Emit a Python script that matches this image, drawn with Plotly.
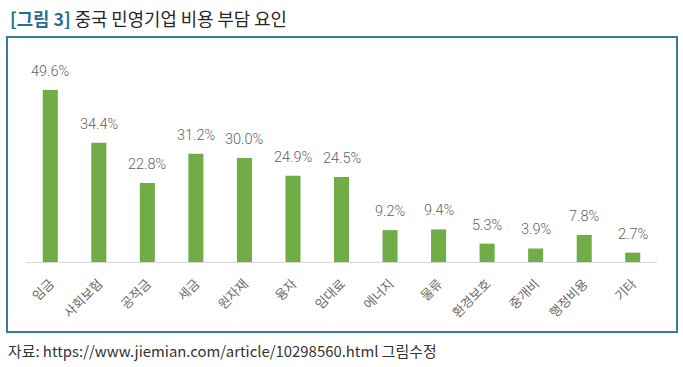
import plotly.graph_objects as go

categories = ["임금", "사회보험", "공적금", "세금", "원자재", "융자", "임대료", "에너지", "물류", "환경보호", "중개비", "행정비용", "기타"]
values = [49.6, 34.4, 22.8, 31.2, 30.0, 24.9, 24.5, 9.2, 9.4, 5.3, 3.9, 7.8, 2.7]
labels = [f"{v:.1f}%" for v in values]

title_prefix = "[그림 3]"
title_rest = "중국 민영기업 비용 부담 요인"
source_text = "자료: https://www.jiemian.com/article/10298560.html 그림수정"

W, H = 683, 367
L, R, T, B = 26, 26, 60, 105
pw, ph = W - L - R, H - T - B

def px(x):
    return (x - L) / pw

def py(y):
    return (H - B - y) / ph

fig = go.Figure(go.Bar(
    x=categories, y=values,
    marker=dict(color="#70ad47", line=dict(width=0)),
    cliponaxis=False,
))

value_annotations = [
    dict(x=c, y=v, xref="x", yref="y", text=t, showarrow=False,
         xanchor="center", yanchor="bottom", yshift=8,
         font=dict(size=14.5, color="#5f5f5f", family="Roboto", weight=300))
    for c, v, t in zip(categories, values, labels)
]

fig.update_layout(
    width=W, height=H,
    margin=dict(l=L, r=R, t=T, b=B),
    paper_bgcolor="white", plot_bgcolor="white",
    bargap=0.69,
    showlegend=False,
    font=dict(family="Noto Sans CJK KR, Roboto", color="#595959"),
    xaxis=dict(
        tickangle=-45, tickfont=dict(size=13, color="#6a6a6a", family="Noto Sans CJK KR"),
        showline=True, linecolor="#d9d9d9", linewidth=1, ticks="outside", ticklen=8,
        tickcolor="rgba(0,0,0,0)", showgrid=False, fixedrange=True,
    ),
    yaxis=dict(range=[0, 202 / (172 / 49.6)], visible=False, showgrid=False, fixedrange=True),
    shapes=[dict(type="rect", xref="paper", yref="paper",
                 x0=px(7), x1=px(677), y0=py(332), y1=py(37),
                 line=dict(color="#3b7d96", width=2), layer="below")],
    annotations=value_annotations + [
        dict(xref="paper", yref="paper", x=px(8), y=py(18), xanchor="left", yanchor="middle",
             showarrow=False,
             text=f"<b><span style='color:#2c6e8f'>{title_prefix}</span></b> {title_rest}",
             font=dict(size=17.8, color="#262626", family="Noto Sans CJK KR")),
        dict(xref="paper", yref="paper", x=px(6), y=py(350), xanchor="left", yanchor="middle",
             showarrow=False, text=source_text,
             font=dict(size=14.9, color="#333333", family="Noto Sans CJK KR")),
    ],
)

fig.write_html("out.html", config={"displayModeBar": False},
               post_script="document.body.style.margin='0';document.body.style.overflow='hidden';")
